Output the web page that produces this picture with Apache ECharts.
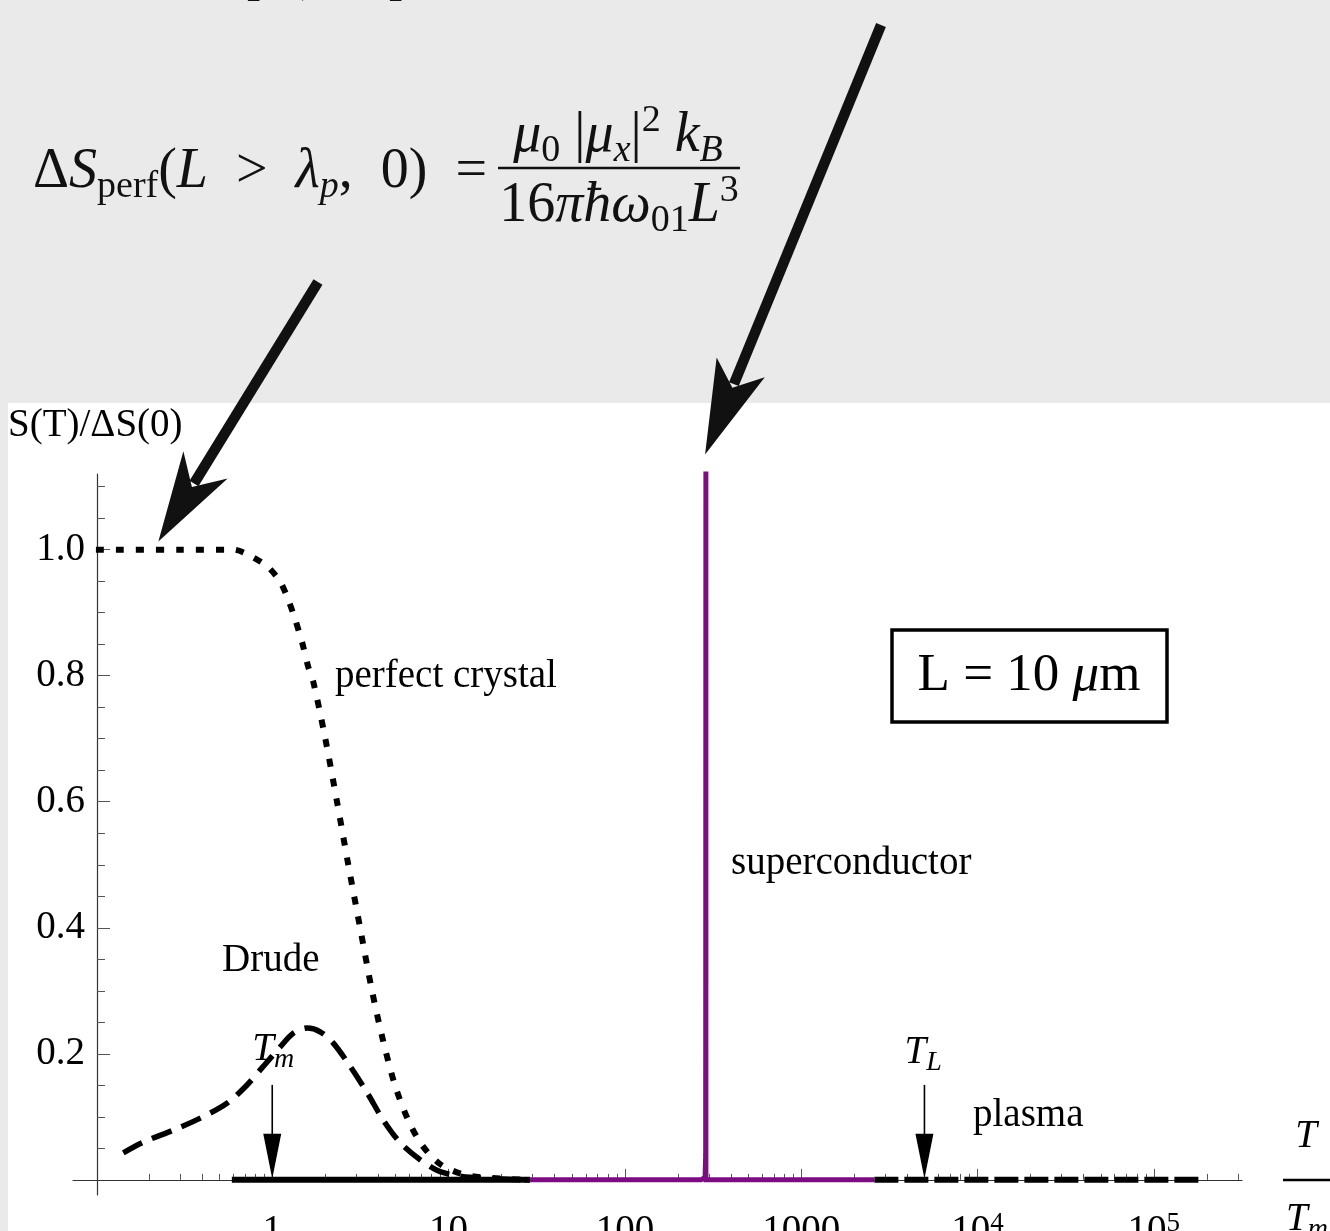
<!DOCTYPE html>
<html><head><meta charset="utf-8">
<script src="https://cdn.jsdelivr.net/npm/echarts@6/dist/echarts.min.js"></script>
<style>html,body{margin:0;padding:0;background:#fff;overflow:hidden}#c{width:1330px;height:1231px}</style>
</head><body><div id="c"></div>
<script>
// ---- data (T in units of T_m, S in units of ΔS(0)) ----
const perfectT = [0.1, 0.3, 0.6, 0.73, 0.94, 1.11, 1.23, 1.35, 1.48, 1.6, 1.71, 2.0, 2.33, 2.7, 3.15, 3.68, 4.26, 4.97, 5.9, 7.08, 8.96, 12.4, 19.6, 29];
const perfectS = [1.0, 1.0, 1.0, 0.992, 0.973, 0.949, 0.921, 0.889, 0.852, 0.814, 0.79, 0.70, 0.60, 0.50, 0.40, 0.30, 0.22, 0.15, 0.095, 0.055, 0.025, 0.008, 0.002, 0.0];
const drudeT = [0.143, 0.186, 0.275, 0.391, 0.556, 0.722, 0.889, 1.11, 1.32, 1.58, 1.87, 2.22, 2.77, 3.46, 4.26, 5.32, 6.9, 8.96, 13.3, 29];
const drudeS = [0.043, 0.06, 0.079, 0.098, 0.122, 0.151, 0.18, 0.211, 0.233, 0.241, 0.235, 0.217, 0.18, 0.138, 0.095, 0.059, 0.032, 0.013, 0.004, 0.0];
const lowT = [0.59, 29];
const lowS = [0, 0];
const superT = [29, 270, 285, 287.2, 288, 288.2, 300, 2600];
const superS = [0, 0, 0.004, 0.04, 1.13, 0.0, 0, 0];
const plasmaT = [2600, 190000];
const plasmaS = [0, 0];
const Tm = 1, TL = 5000;
const xMajorExp = [0, 1, 2, 3, 4, 5];
const xMajorLabels = ['1', '10', '100', '1000', '10{sup|4}', '10{sup|5}'];
const yMajor = [0.2, 0.4, 0.6, 0.8, 1.0];
const yMajorLabels = ['0.2', '0.4', '0.6', '0.8', '1.0'];
const yMinor = [0.05, 0.1, 0.15, 0.25, 0.3, 0.35, 0.45, 0.5, 0.55, 0.65, 0.7, 0.75, 0.85, 0.9, 0.95, 1.05, 1.1];
const xMinorMult = [2, 3, 4, 5, 6, 7, 8, 9];
const xMinorDecades = [-1, 0, 1, 2, 3, 4, 5];

const FONT = '"Liberation Serif", "DejaVu Serif", serif';
const xMinor = [];
xMinorDecades.forEach(d => xMinorMult.forEach(m => { const v = d + Math.log10(m); if (v < 5.5) xMinor.push(v); }));
const pts = (ts, ss) => ts.map((t, i) => [Math.log10(t), ss[i]]);

const chart = echarts.init(document.getElementById('c'), null, { renderer: 'canvas' });
const X_MIN = -1.13, X_MAX = 5.5, Y_MIN = -0.024, Y_MAX = 1.12;
const axisCommon = { type: 'value', splitLine: { show: false } };

const option = {
  backgroundColor: '#ffffff',
  animation: false,
  grid: { left: 73, right: 88, top: 474, bottom: 36, containLabel: false, outerBoundsMode: 'none' },
  xAxis: [
    Object.assign({}, axisCommon, {
      min: X_MIN, max: X_MAX, position: 'bottom',
      axisLine: { show: true, onZero: true, onZeroAxisIndex: 0, lineStyle: { color: '#333', width: 1.2 } },
      axisTick: { show: true, inside: true, length: 11, customValues: xMajorExp, lineStyle: { color: '#555', width: 1 } },
      axisLabel: {
        show: true, customValues: xMajorExp, margin: 15, fontFamily: FONT, fontSize: 39, color: '#000', lineHeight: 44,
        formatter: v => xMajorLabels[xMajorExp.indexOf(Math.round(v))] || '',
        rich: { sup: { fontFamily: FONT, fontSize: 27, lineHeight: 22, verticalAlign: 'top', color: '#000' } }
      }
    }),
    Object.assign({}, axisCommon, {
      min: X_MIN, max: X_MAX, position: 'bottom',
      axisLine: { show: false, onZero: true, onZeroAxisIndex: 1 },
      axisTick: { show: true, inside: true, length: 6, customValues: xMinor, lineStyle: { color: '#555', width: 1 } },
      axisLabel: { show: false }
    })
  ],
  yAxis: [
    Object.assign({}, axisCommon, {
      min: Y_MIN, max: Y_MAX, position: 'left', offset: -24,
      axisLine: { show: true, onZero: false, lineStyle: { color: '#333', width: 1.2 } },
      axisTick: { show: true, inside: true, length: 13, customValues: yMajor, lineStyle: { color: '#555', width: 1 } },
      axisLabel: {
        show: true, customValues: yMajor, margin: 12, fontFamily: FONT, fontSize: 39, color: '#000',
        formatter: v => yMajorLabels[yMajor.findIndex(a => Math.abs(a - v) < 1e-6)] || ''
      }
    }),
    Object.assign({}, axisCommon, {
      min: Y_MIN, max: Y_MAX, position: 'left', offset: -24,
      axisLine: { show: false, onZero: false },
      axisTick: { show: true, inside: true, length: 8, customValues: yMinor, lineStyle: { color: '#555', width: 1 } },
      axisLabel: { show: false }
    })
  ],
  series: [
    { name: 'perfect crystal', type: 'line', xAxisIndex: 0, yAxisIndex: 0, data: pts(perfectT, perfectS), smooth: 0.3, showSymbol: false,
      lineStyle: { color: '#000', width: 6, type: [8, 12], cap: 'butt' }, z: 3 },
    { name: 'Drude', type: 'line', xAxisIndex: 0, yAxisIndex: 0, data: pts(drudeT, drudeS), smooth: 0.3, showSymbol: false,
      lineStyle: { color: '#000', width: 5.5, type: [21, 11], cap: 'butt' }, z: 3 },
    { name: 'low', type: 'line', xAxisIndex: 0, yAxisIndex: 0, data: pts(lowT, lowS), showSymbol: false,
      lineStyle: { color: '#000', width: 6 }, z: 4 },
    { name: 'plasma', type: 'line', xAxisIndex: 0, yAxisIndex: 0, data: pts(plasmaT, plasmaS), showSymbol: false,
      lineStyle: { color: '#000', width: 6, type: [24, 6], cap: 'butt' }, z: 4 },
    { name: 'superconductor', type: 'line', xAxisIndex: 0, yAxisIndex: 0, data: pts(superT, superS), showSymbol: false,
      lineStyle: { color: '#7d0c82', width: 5, join: 'miter' }, z: 5 }
  ]
};
chart.setOption(option);

const px = (t, s) => chart.convertToPixel({ xAxisIndex: 0, yAxisIndex: 0 }, [Math.log10(t), s]);

function bigArrow(tail, tip, L, N, W, lw) {
  const dx = tip[0] - tail[0], dy = tip[1] - tail[1];
  const len = Math.hypot(dx, dy); const ux = dx / len, uy = dy / len; const nx = -uy, ny = ux;
  const notch = [tip[0] - ux * N, tip[1] - uy * N];
  const b1 = [tip[0] - ux * L + nx * W, tip[1] - uy * L + ny * W];
  const b2 = [tip[0] - ux * L - nx * W, tip[1] - uy * L - ny * W];
  return [
    { type: 'polyline', z: 100, shape: { points: [tail, [notch[0] - ux * 4, notch[1] - uy * 4]] }, style: { stroke: '#111', lineWidth: lw, fill: null } },
    { type: 'polygon', z: 100, shape: { points: [tip, b1, notch, b2] }, style: { fill: '#111' } }
  ];
}
function smallArrow(tip, shaftLen) {
  return [
    { type: 'line', z: 50, shape: { x1: tip[0], y1: tip[1] - shaftLen, x2: tip[0], y2: tip[1] - 30 }, style: { stroke: '#000', lineWidth: 1.6 } },
    { type: 'polygon', z: 50, shape: { points: [[tip[0], tip[1] - 1], [tip[0] - 9, tip[1] - 46], [tip[0] + 9, tip[1] - 46]] }, style: { fill: '#000' } }
  ];
}

const tmTip = px(Tm, 0), tlTip = px(TL, 0);
const tip1 = px(0.226, 1.013), tip2 = px(285, 1.151);
const txt = (x, y, text, extra) => Object.assign({ type: 'text', z: 60, x: x, y: y,
  style: Object.assign({ text: text, fontFamily: FONT, fontSize: 39, fill: '#000', align: 'left', verticalAlign: 'middle' }, extra || {}) });

const richF = {
  m: { fontFamily: FONT, fontSize: 56, lineHeight: 68, fill: '#111' },
  i: { fontFamily: FONT, fontSize: 56, lineHeight: 68, fontStyle: 'italic', fill: '#111' },
  s: { fontFamily: FONT, fontSize: 38, lineHeight: 32, verticalAlign: 'bottom', fill: '#111' },
  si: { fontFamily: FONT, fontSize: 38, lineHeight: 32, verticalAlign: 'bottom', fontStyle: 'italic', fill: '#111' },
  p: { fontFamily: FONT, fontSize: 38, lineHeight: 32, verticalAlign: 'top', fill: '#111' }
};
const richT = {
  i: { fontFamily: FONT, fontSize: 39, lineHeight: 48, fontStyle: 'italic', fill: '#000' },
  s: { fontFamily: FONT, fontSize: 28, lineHeight: 22, verticalAlign: 'bottom', fontStyle: 'italic', fill: '#000' }
};

const graphics = [
  { type: 'rect', z: -10, shape: { x: 0, y: 0, width: 1330, height: 403 }, style: { fill: '#e9eae9' } },
  { type: 'rect', z: -10, shape: { x: 0, y: 403, width: 8, height: 828 }, style: { fill: '#e9eae9' } },
  // partial text at top edge
  txt(244, 6, '[', { fontSize: 52, verticalAlign: 'bottom', fill: '#111' }),
  txt(300, 4, ',', { fontSize: 52, verticalAlign: 'bottom', fill: '#111' }),
  txt(388, 6, ']', { fontSize: 52, verticalAlign: 'bottom', fill: '#111' }),
  // formula
  txt(33, 172, '{m|Δ}{i|S}{s|perf}{m|(}{i|L}{m|  >  }{i|λ}{si|p}{m|,  0)  =}', { rich: richF }),
  txt(618, 136, '{i|μ}{s|0}{m| |}{i|μ}{si|x}{m||}{p|2}{m| }{i|k}{si|B}', { rich: richF, align: 'center' }),
  txt(619, 206, '{m|16}{i|πħω}{s|01}{i|L}{p|3}', { rich: richF, align: 'center' }),
  { type: 'line', z: 60, shape: { x1: 498, y1: 168, x2: 740, y2: 168 }, style: { stroke: '#111', lineWidth: 2.5 } },
  // axis name
  txt(8, 426, 'S(T)/ΔS(0)'),
  // curve labels
  txt(335, 677, 'perfect crystal'),
  txt(222, 961, 'Drude'),
  txt(731, 864, 'superconductor'),
  txt(973, 1116, 'plasma'),
  // T_m and T_L
  txt(tmTip[0] - 20, 1050, '{i|T}{s|m}', { rich: richT }),
  txt(tlTip[0] - 20, 1053, '{i|T}{s|L}', { rich: richT }),
  // x-axis title T / T_m
  txt(1306, 1137, '{i|T}', { rich: richT, align: 'center' }),
  { type: 'line', z: 60, shape: { x1: 1283, y1: 1180, x2: 1330, y2: 1180 }, style: { stroke: '#000', lineWidth: 2.5 } },
  txt(1286, 1220, '{i|T}{s|m}', { rich: richT }),
  // L box
  { type: 'rect', z: 60, shape: { x: 892, y: 630, width: 275, height: 92 }, style: { fill: '#fff', stroke: '#000', lineWidth: 3.5 } },
  txt(1029, 676, '{m|L = 10 }{i|μ}{m|m}', { align: 'center', rich: {
    m: { fontFamily: FONT, fontSize: 53, fill: '#000' }, i: { fontFamily: FONT, fontSize: 53, fontStyle: 'italic', fill: '#000' } } })
].concat(smallArrow(tmTip, 95), smallArrow(tlTip, 95),
  bigArrow([318, 282], tip1, 90, 64, 26, 10.5), bigArrow([881, 25], tip2, 94, 72, 26, 10.5));

chart.setOption({ graphic: { elements: graphics } });
</script>
</body></html>
